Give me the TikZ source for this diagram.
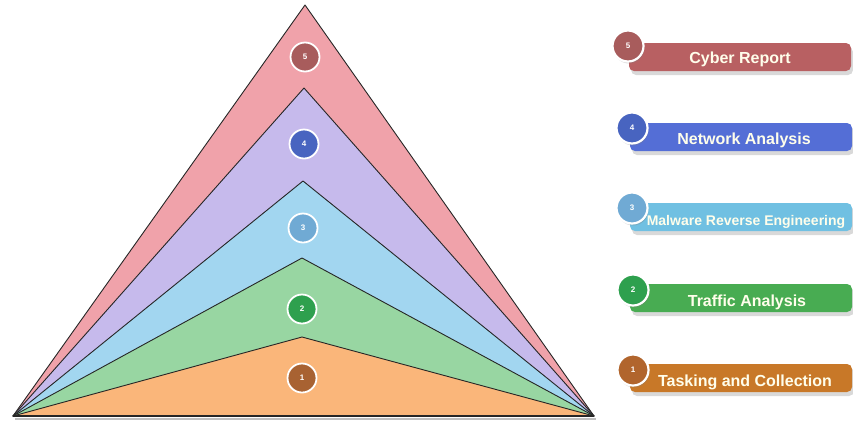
\documentclass[tikz,border=0pt]{standalone}
\usepackage{fontspec}
\setmainfont{Liberation Sans}
\usetikzlibrary{shadows}
\definecolor{p5}{RGB}{240,162,170}
\definecolor{p4}{RGB}{198,186,236}
\definecolor{p3}{RGB}{162,214,240}
\definecolor{p2}{RGB}{152,214,162}
\definecolor{p1}{RGB}{250,182,122}
\definecolor{c5}{RGB}{168,92,92}
\definecolor{c4}{RGB}{72,100,192}
\definecolor{c3}{RGB}{112,170,212}
\definecolor{c2}{RGB}{46,160,78}
\definecolor{c1}{RGB}{168,98,50}
\definecolor{b5}{RGB}{184,96,98}
\definecolor{b4}{RGB}{84,110,214}
\definecolor{b3}{RGB}{112,192,226}
\definecolor{b2}{RGB}{72,172,82}
\definecolor{b1}{RGB}{200,120,40}
\tikzset{
  layer/.style={draw=black!85, line width=0.9pt, line join=round},
  numdot/.style={circle, minimum size=29pt, inner sep=0pt, draw=white, line width=1.8pt, text=white, font=\bfseries\fontsize{8}{9}\selectfont},
  bar/.style={rounded corners=5pt, minimum width=222pt, minimum height=28pt, inner sep=0pt, drop shadow={shadow xshift=2pt, shadow yshift=-4pt, opacity=0.3}},
  bardot/.style={circle, minimum size=31pt, inner sep=0pt, draw=white, line width=2.2pt, text=white, font=\bfseries\fontsize{8}{9}\selectfont, drop shadow={shadow xshift=1pt, shadow yshift=-2pt, opacity=0.3}},
  bartext/.style={text=white!92!yellow, font=\bfseries\fontsize{16}{18}\selectfont}
}
\begin{document}
\begin{tikzpicture}[x=1pt,y=-1pt]
\useasboundingbox (0,0) rectangle (853,421);
% triangle corners and peaks
\coordinate (L) at (13,416);
\coordinate (R) at (594,416);
\coordinate (A) at (305,5);
\coordinate (P4) at (304,88);
\coordinate (P3) at (303,181);
\coordinate (P2) at (302,258);
\coordinate (P1) at (302,337);
\fill[black!25] (L) ++(2,2) -- ([shift={(2,2)}]R) -- ([shift={(2,4)}]R) -- ([shift={(2,4)}]L) -- cycle;
\filldraw[layer, fill=p5] (L) -- (A) -- (R) -- cycle;
\filldraw[layer, fill=p4] (L) -- (P4) -- (R) -- cycle;
\filldraw[layer, fill=p3] (L) -- (P3) -- (R) -- cycle;
\filldraw[layer, fill=p2] (L) -- (P2) -- (R) -- cycle;
\filldraw[layer, fill=p1] (L) -- (P1) -- (R) -- cycle;
\draw[line width=1.3pt, black!85] (L) -- (R);
% numbers in layers
\node[numdot, fill=c5] (n5) at (305,57) {5};
\node[numdot, fill=c4] (n4) at (304,144) {4};
\node[numdot, fill=c3] (n3) at (303,228) {3};
\node[numdot, fill=c2] (n2) at (302,309) {2};
\node[numdot, fill=c1] (n1) at (302,378) {1};
% legend bars
\node[bar, fill=b5] (l5) at (740,57) {};
\node[bar, fill=b4] (l4) at (741,137) {};
\node[bar, fill=b3] (l3) at (741,217) {};
\node[bar, fill=b2] (l2) at (741,298) {};
\node[bar, fill=b1] (l1) at (741,378) {};
\node[bardot, fill=c5] (d5) at (628,46) {5};
\node[bardot, fill=c4] (d4) at (632,128) {4};
\node[bardot, fill=c3] (d3) at (632,208) {3};
\node[bardot, fill=c2] (d2) at (633,290) {2};
\node[bardot, fill=c1!90!orange] (d1) at (633,370) {1};
\node[bartext] (t5) at (740,59) {Cyber Report};
\node[bartext] (t4) at (744,140) {Network Analysis};
\node[bartext, font=\bfseries\fontsize{14}{16}\selectfont] (t3) at (746,222) {Malware Reverse Engineering};
\node[bartext] (t2) at (747,302) {Traffic Analysis};
\node[bartext] (t1) at (745,382) {Tasking and Collection};
\end{tikzpicture}
\end{document}
